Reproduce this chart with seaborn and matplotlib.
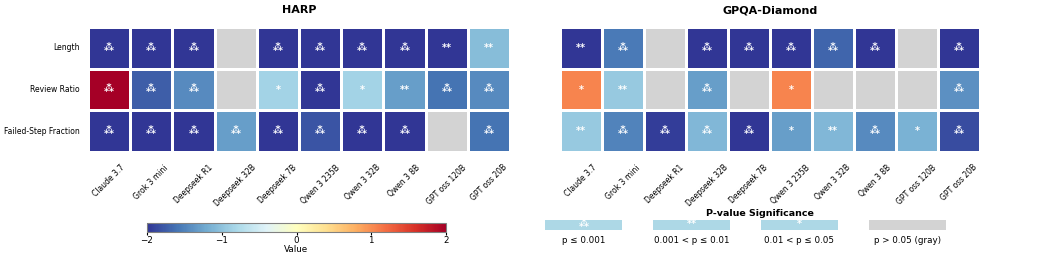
import numpy as np
import pandas as pd
import matplotlib
matplotlib.use("Agg")
import matplotlib.pyplot as plt
from matplotlib.colors import ListedColormap, Normalize
from matplotlib.patches import Rectangle
import seaborn as sns

models = ["Claude 3.7", "Grok 3 mini", "Deepseek R1", "Deepseek 32B", "Deepseek 7B",
          "Qwen 3 235B", "Qwen 3 32B", "Qwen 3 8B", "GPT oss 120B", "GPT oss 20B"]
metrics = ["Length", "Review Ratio", "Failed-Step Fraction"]

# effect values (clipped to [-2, 2] by the colour scale)
harp_length = [-2.5, -2.5, -2.5, 0.0, -2.5, -2.5, -2.5, -2.5, -2.3, -1.05]
harp_review = [2.2, -1.75, -1.45, 0.0, -0.85, -2.2, -0.85, -1.3, -1.6, -1.45]
harp_failed = [-2.3, -2.3, -2.3, -1.3, -2.3, -1.8, -2.2, -2.2, 0.0, -1.6]

gpqa_length = [-2.1, -1.55, 0.0, -2.3, -2.3, -2.3, -1.7, -2.3, 0.0, -2.2]
gpqa_review = [1.05, -0.95, 0.0, -1.3, 0.0, 1.05, 0.0, 0.0, 0.0, -1.4]
gpqa_failed = [-0.95, -1.5, -1.95, -1.1, -2.2, -1.3, -1.1, -1.45, -1.15, -1.85]

# significance: 3 = p<=0.001, 2 = p<=0.01, 1 = p<=0.05, 0 = n.s.
harp_sig = [[3, 3, 3, 0, 3, 3, 3, 3, 2, 2],
            [3, 3, 3, 0, 1, 3, 1, 2, 3, 3],
            [3, 3, 3, 3, 3, 3, 3, 3, 0, 3]]
gpqa_sig = [[2, 3, 0, 3, 3, 3, 3, 3, 0, 3],
            [1, 2, 0, 3, 0, 1, 0, 0, 0, 3],
            [2, 3, 3, 3, 3, 1, 2, 3, 1, 3]]

star_text = {3: "\u2042", 2: "**", 1: "*", 0: ""}
legend_labels = ["p \u2264 0.001", "0.001 < p \u2264 0.01", "0.01 < p \u2264 0.05", "p > 0.05 (gray)"]

W, H = 1047, 259
fig = plt.figure(figsize=(W / 100, H / 100), dpi=100)
plt.rcParams['font.family'] = ['DejaVu Sans']

cmap = "RdYlBu_r"
gray_cmap = ListedColormap(["lightgray"])


def draw_panel(ax, title, rows, sig):
    vals = pd.DataFrame(rows, index=metrics, columns=models)
    sig = np.array(sig)
    annot = np.vectorize(star_text.get)(sig)
    sns.heatmap(vals, mask=sig != 0, cmap=gray_cmap, cbar=False, ax=ax,
                linewidths=2, linecolor="white", square=False)
    sns.heatmap(vals, mask=sig == 0, cmap=cmap, vmin=-2, vmax=2, cbar=False, ax=ax,
                annot=annot, fmt="",
                annot_kws={"color": "white", "fontsize": 7, "fontweight": "bold"},
                linewidths=2, linecolor="white", square=False)
    ax.set_title(title, fontsize=8, fontweight="bold", pad=10)
    ax.tick_params(axis="x", length=0, pad=8)
    ax.tick_params(axis="y", length=0, pad=6)
    ax.set_xticklabels(models, rotation=45, ha="center", fontsize=5.5)
    ax.set_yticklabels(metrics, rotation=0, fontsize=5.5)
    ax.set_xlabel("")
    ax.set_ylabel("")


ax1 = fig.add_axes([88 / W, 1 - 152 / H, 422 / W, 125 / H])
ax2 = fig.add_axes([560 / W, 1 - 152 / H, 420 / W, 125 / H])
draw_panel(ax1, "HARP", [harp_length, harp_review, harp_failed], harp_sig)
draw_panel(ax2, "GPQA-Diamond", [gpqa_length, gpqa_review, gpqa_failed], gpqa_sig)
ax2.set_yticklabels([])

# colour bar
cax = fig.add_axes([147 / W, 1 - 232 / H, 299 / W, 9.5 / H])
sm = plt.cm.ScalarMappable(norm=Normalize(-2, 2), cmap=cmap)
cb = fig.colorbar(sm, cax=cax, orientation="horizontal")
cb.set_ticks([-2, -1, 0, 1, 2])
cb.ax.tick_params(labelsize=6.3, length=2, pad=1)
cb.set_label("Value", fontsize=6.3, labelpad=0)
cb.outline.set_edgecolor("gray")

# significance legend
lax = fig.add_axes([545 / W, 1 - 245 / H, 401 / W, 40 / H])
lax.set_xlim(0, 401)
lax.set_ylim(40, 0)
lax.axis("off")
lax.text(215, 8, "P-value Significance", ha="center", va="center",
         fontsize=6.8, fontweight="bold")
for i, lab in enumerate(legend_labels):
    x0 = i * 108
    face = "lightblue" if i < 3 else "lightgray"
    lax.add_patch(Rectangle((x0, 15), 77, 10, facecolor=face, edgecolor="none"))
    lax.text(x0 + 38.5, 19, star_text[3 - i] if i < 3 else "", ha="center", va="center",
             color="white", fontsize=7, fontweight="bold")
    lax.text(x0 + 38.5, 35.5, lab, ha="center", va="center", fontsize=6.3)

fig.savefig("out.png", dpi=100)
